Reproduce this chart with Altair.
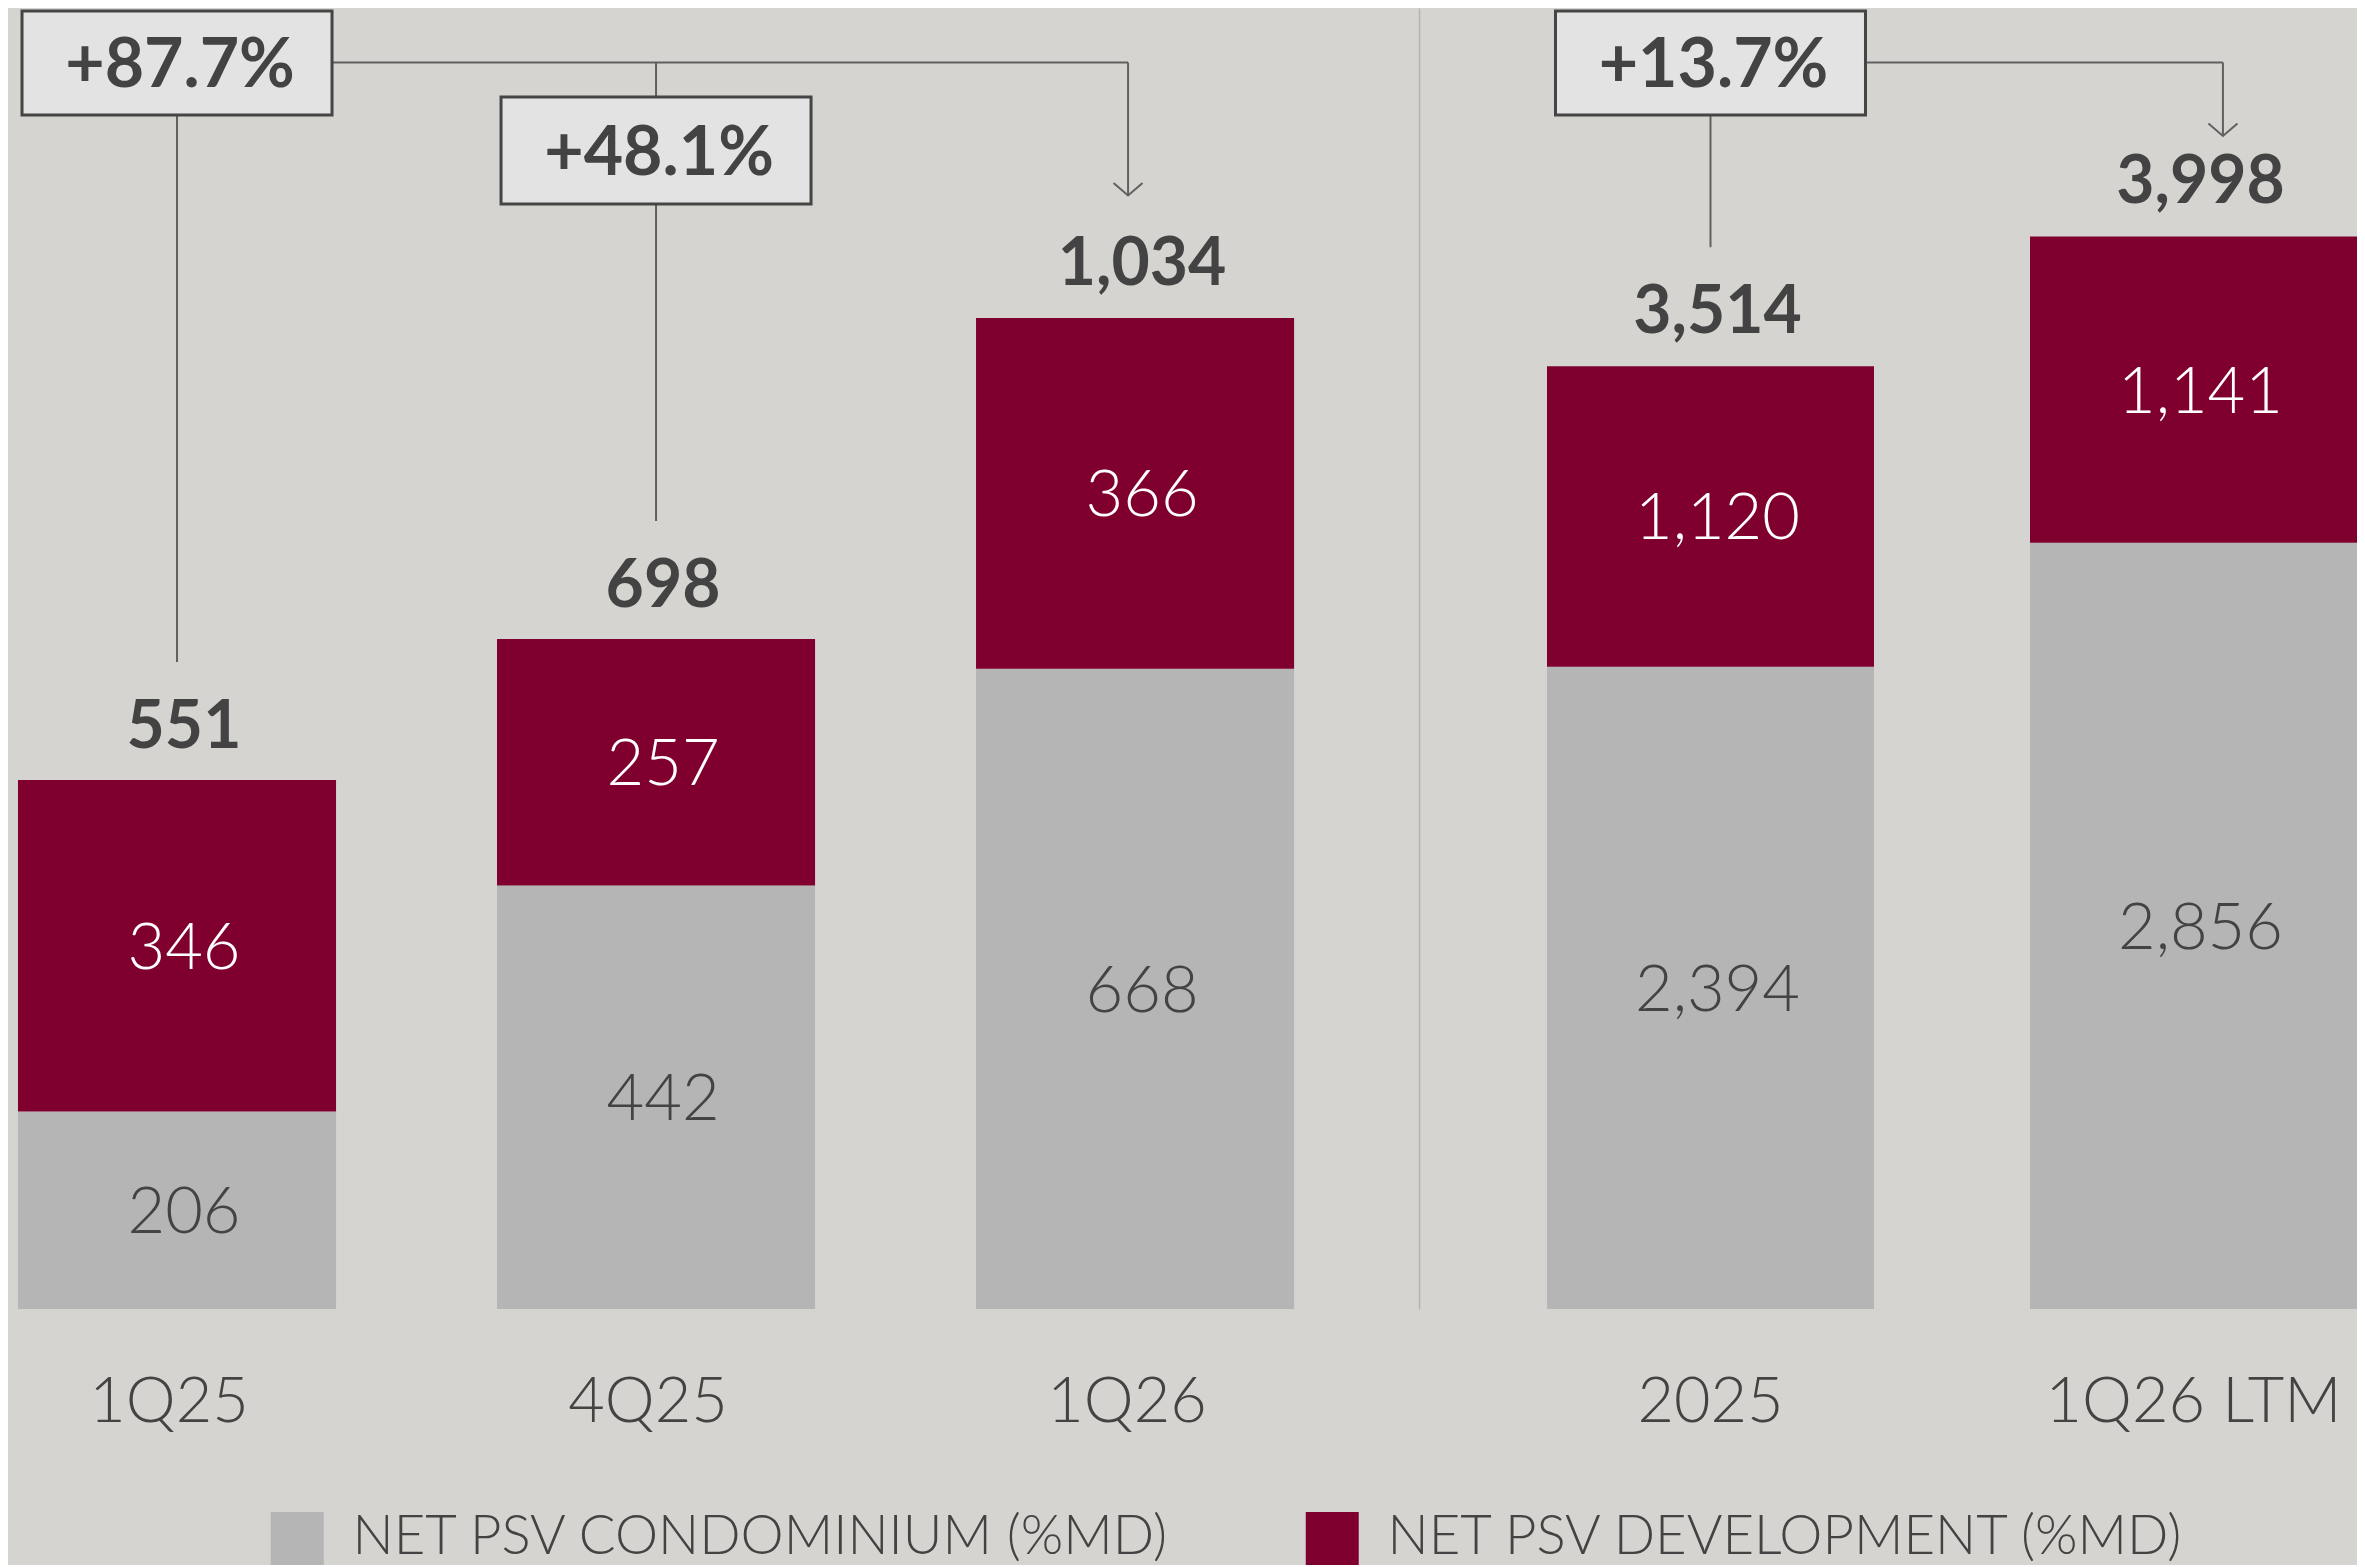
import altair as alt
import pandas as pd

# ---------------- data ----------------
periods_q = ["1Q25", "4Q25", "1Q26"]
condo_q = [206, 442, 668]
dev_q = [346, 257, 366]
total_q = [551, 698, 1034]

periods_y = ["2025", "1Q26 LTM"]
condo_y = [2394, 2856]
dev_y = [1120, 1141]
total_y = [3514, 3998]

series_names = ["NET PSV CONDOMINIUM (%MD)", "NET PSV DEVELOPMENT (%MD)"]
series_colors = ["#b5b5b5", "#7f002f"]

growth_q = [("1Q25", "1Q26", "+87.7%"), ("4Q25", "1Q26", "+48.1%")]
growth_y = [("2025", "1Q26 LTM", "+13.7%")]

# ---------------- style / layout ----------------
FONT = "Lato"
TXT = "#434343"
LINE = "#606060"
BG = "#d6d4d0"
BOXFILL = "#e3e3e3"
BOXSTROKE = "#454545"
H = 1301
W_L, W_R = 1411, 938
D_L, D_R = 1357.5, 4849


def px2v(px, D):
    """distance in px from the plot top -> value on the panel's y scale"""
    return D * (1 - px / H)


LEG = alt.Legend(
    orient="none", legendX=262, legendY=1503, direction="horizontal", title=None,
    symbolType="square", symbolSize=2809, symbolStrokeWidth=0,
    labelFont=FONT, labelFontSize=54.5, labelFontWeight=300, labelColor=TXT,
    labelOffset=28, columnPadding=134, labelLimit=2000, padding=0,
)


def build_panel(periods, condo, dev, total, growth, D, W, p_in, p_out, align,
                arrow_band, tip_px, label_dx, y_axis):
    xs = alt.Scale(domain=periods, paddingInner=p_in, paddingOuter=p_out, align=align)
    xa = alt.Axis(title=None, labelFont=FONT, labelFontSize=63, labelFontWeight=300,
                  labelColor=TXT, labelAngle=0, labelPadding=112, labelBaseline="alphabetic",
                  labelLimit=2000, ticks=False, tickSize=0, domain=False, grid=False,
                  labelOffset=label_dx)
    ys = alt.Scale(domain=[0, D], nice=False, zero=True)

    def X(field="period", **kw):
        return alt.X(field, type="nominal", scale=xs, axis=xa, **kw)

    def Y(field):
        return alt.Y(field, type="quantitative", scale=ys, axis=y_axis)

    n = len(periods)
    bars_df = pd.DataFrame({
        "period": list(periods) * 2,
        "series": [series_names[0]] * n + [series_names[1]] * n,
        "value": list(condo) + list(dev),
        "ord": [0] * n + [1] * n,
    })
    base = alt.Chart(bars_df).transform_stack(
        stack="value", groupby=["period"], as_=["y0", "y1"],
        sort=[alt.SortField("ord", order="ascending")],
    ).transform_calculate(mid="(datum.y0 + datum.y1) / 2")

    bar = base.mark_bar().encode(
        x=X(), y=Y("y0"), y2=alt.Y2("y1"),
        color=alt.Color("series:N", scale=alt.Scale(domain=series_names, range=series_colors),
                        legend=LEG),
    )
    seg_kw = dict(font=FONT, fontSize=65, fontWeight=300, dx=7, dy=3)
    seg_con = base.transform_filter("datum.ord == 0").mark_text(color=TXT, **seg_kw).encode(
        x=X(), y=Y("mid"), text=alt.Text("value:Q", format=","))
    seg_dev = base.transform_filter("datum.ord == 1").mark_text(color="#ffffff", **seg_kw).encode(
        x=X(), y=Y("mid"), text=alt.Text("value:Q", format=","))

    tot_df = pd.DataFrame({"period": periods, "total": total})
    tot = alt.Chart(tot_df).mark_text(font=FONT, fontSize=66, fontWeight="bold", color=TXT,
                                      baseline="alphabetic", dy=-33, dx=7).encode(
        x=X(), y=Y("total"), text=alt.Text("total:Q", format=","))

    # growth brackets
    to_p = growth[0][1]
    lvl = px2v(54.5, D)
    gap = 119 * D / H
    tot_map = dict(zip(periods, total))
    vert_df = pd.DataFrame({
        "period": [g[0] for g in growth],
        "y_top": [lvl] * len(growth),
        "y_end": [tot_map[g[0]] + gap for g in growth],
    })
    rule_kw = dict(color=LINE, strokeWidth=2)
    vert = alt.Chart(vert_df).mark_rule(**rule_kw).encode(x=X(), y=Y("y_top"), y2=alt.Y2("y_end"))
    horiz_df = pd.DataFrame({"period": [growth[0][0]], "to": [to_p], "lvl": [lvl]})
    horiz = alt.Chart(horiz_df).mark_rule(**rule_kw).encode(
        x=X(), x2=alt.X2(field="to", bandPosition=arrow_band), y=Y("lvl"))
    arrow_df = pd.DataFrame({"period": [to_p], "y_top": [lvl], "tip": [px2v(tip_px, D)]})
    arrow_line = alt.Chart(arrow_df).mark_rule(**rule_kw).encode(
        x=X(bandPosition=arrow_band), y=Y("y_top"), y2=alt.Y2("tip"))
    arrow_head = alt.Chart(arrow_df).mark_point(
        shape="M-1,-0.86L0,0L1,-0.86", filled=False, size=841, strokeWidth=2,
        color=LINE, opacity=1).encode(x=X(bandPosition=arrow_band), y=Y("tip"))

    tiers = [(3, 107, 54.5), (89, 196, 142.5)]
    box_df = pd.DataFrame({
        "period": [g[0] for g in growth],
        "label": [g[2] for g in growth],
        "b_top": [px2v(tiers[i][0], D) for i in range(len(growth))],
        "b_bot": [px2v(tiers[i][1], D) for i in range(len(growth))],
        "b_mid": [px2v(tiers[i][2], D) for i in range(len(growth))],
    })
    box = alt.Chart(box_df).mark_bar(width=310, fill=BOXFILL, stroke=BOXSTROKE, strokeWidth=3).encode(
        x=X(), y=Y("b_top"), y2=alt.Y2("b_bot"))
    box_txt = alt.Chart(box_df).mark_text(font=FONT, fontSize=68, fontWeight="bold", color=TXT,
                                          dx=3, dy=4).encode(
        x=X(), y=Y("b_mid"), text="label:N")

    return alt.layer(bar, seg_con, seg_dev, tot, vert, horiz, arrow_line, arrow_head, box, box_txt).properties(
        width=W, height=H)


left = build_panel(periods_q, condo_q, dev_q, total_q, growth_q, D_L, W_L,
                   0.336, 0.1408, 0.074, 0.478, 187.5, -8, None)
right_axis = alt.Axis(orient="left", title=None, labels=False, ticks=False, grid=False,
                      domain=True, domainColor="#b3b3b3", domainWidth=1.5)
right = build_panel(periods_y, condo_y, dev_y, total_y, growth_y, D_R, W_R,
                    0.323, 0.1325, 1.0, 0.59, 128, 0, right_axis)

chart = alt.hconcat(left, right, spacing=0).resolve_scale(
    x="independent", y="independent", color="shared"
).properties(padding=0, background=BG).configure_view(stroke=None)

chart.save("out.html", embed_options={"renderer": "svg", "actions": False})
